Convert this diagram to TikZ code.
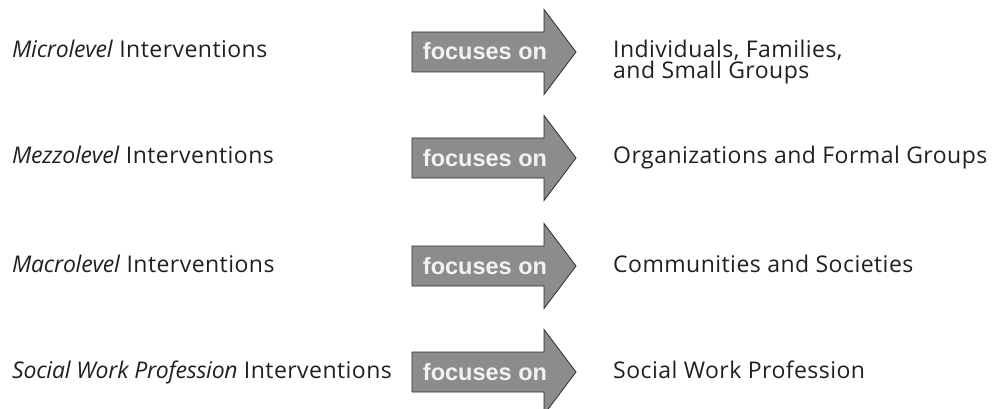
\documentclass[tikz,border=0pt]{standalone}
\usepackage{fontspec}
\setmainfont{Open Sans}[LetterSpace=2,ItalicFeatures={LetterSpace=-1}]
\newfontfamily\arrowfont{Liberation Sans}
\definecolor{arrowgray}{HTML}{8C8C8C}
\definecolor{arrowedge}{HTML}{2E2E2E}
\definecolor{arrowtext}{HTML}{F2F2F2}
\definecolor{labeltext}{HTML}{231F20}
\begin{document}
\begin{tikzpicture}[x=1pt,y=-1pt,
  lefttext/.style={anchor=base west,inner sep=0pt,text=labeltext,font=\fontsize{23}{20}\selectfont},
  righttext/.style={anchor=base west,inner sep=0pt,text=labeltext,align=left,font=\fontsize{23}{20}\selectfont},
  arrowlabel/.style={inner sep=0pt,text=arrowtext,font=\arrowfont\bfseries\fontsize{23.5}{24}\selectfont},
  bigarrow/.style={fill=arrowgray,draw=arrowedge,line width=0.8pt,line join=miter}]
\useasboundingbox (0,0) rectangle (993,409);
\foreach \c/\n in {52/a,158/b,266/c,372/d}{
  \draw[bigarrow] (412,\c-20) -- (544,\c-20) -- (544,\c-42.5) -- (576,\c) -- (544,\c+42.5) -- (544,\c+20) -- (412,\c+20) -- cycle;
  \node[arrowlabel,anchor=base] (arr\n) at (485,\c+8) {focuses on};
}
\node[lefttext] (l1) at (12,58) {\textit{Microlevel} Interventions};
\node[lefttext] (l2) at (12,164) {\textit{Mezzolevel} Interventions};
\node[lefttext] (l3) at (12,272) {\textit{Macrolevel} Interventions};
\node[lefttext] (l4) at (12,378) {\textit{Social Work Profession} Interventions};
\node[righttext] (r1) at (613,79) {Individuals, Families,\\and Small Groups};
\node[righttext] (r2) at (613,164) {Organizations and Formal Groups};
\node[righttext] (r3) at (613,272) {Communities and Societies};
\node[righttext] (r4) at (613,378) {Social Work Profession};
\end{tikzpicture}
\end{document}
